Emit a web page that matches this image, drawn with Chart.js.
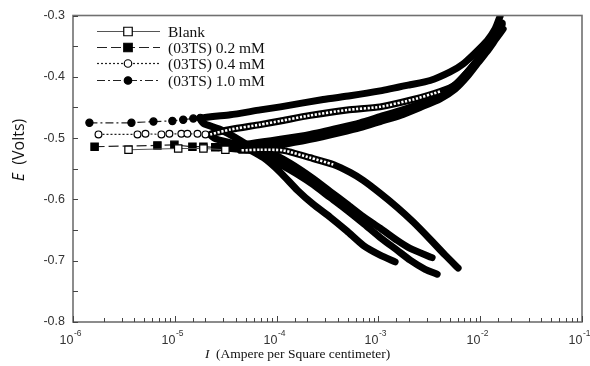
<!DOCTYPE html>
<html>
<head>
<meta charset="utf-8">
<script src="https://cdn.jsdelivr.net/npm/chart.js@4.4.1/dist/chart.umd.min.js"></script>
<style>
  html, body { margin: 0; padding: 0; background: #fff; }
</style>
</head>
<body>
<canvas id="tafel" width="590" height="366"></canvas>
<script>
// legend names
const seriesNames = ['Blank', '(03TS) 0.2 mM', '(03TS) 0.4 mM', '(03TS) 1.0 mM'];

// axis ranges / ticks
const yMin = -0.8, yMax = -0.3;
const xMin = 1e-6, xMax = 1e-1;

// points are [I (A/cm2), E (V)]
// Blank
const blankPlateau = [[3.51e-6, -0.519], [1.08e-5, -0.517], [1.91e-5, -0.517], [3.14e-5, -0.519]];
const blankCathodic = [[4.41e-5, -0.520], [6.92e-5, -0.519], [1.16e-4, -0.520], [2.14e-4, -0.532], [3.60e-4, -0.543],
  [5.28e-4, -0.556], [7.09e-4, -0.569], [1.04e-3, -0.590], [1.53e-3, -0.613], [2.20e-3, -0.637], [3.22e-3, -0.665],
  [4.53e-3, -0.691], [6.07e-3, -0.712]];
const blankAnodic = [[4.41e-5, -0.520], [6.92e-5, -0.515], [1.09e-4, -0.511], [2.14e-4, -0.502], [4.22e-4, -0.491],
  [6.62e-4, -0.483], [1.04e-3, -0.473], [1.64e-3, -0.463], [2.57e-3, -0.450], [4.04e-3, -0.436], [5.68e-3, -0.420],
  [7.43e-3, -0.400], [9.53e-3, -0.377], [1.20e-2, -0.356], [1.43e-2, -0.338], [1.68e-2, -0.322]];

// 0.2 mM
const c02Plateau = [[1.63e-6, -0.514], [6.75e-6, -0.512], [9.91e-6, -0.511], [1.49e-5, -0.514], [1.91e-5, -0.514], [2.50e-5, -0.515]];
const c02Cathodic = [[2.50e-5, -0.515], [4.93e-5, -0.519], [8.67e-5, -0.524], [1.36e-4, -0.541], [2.29e-4, -0.566],
  [3.36e-4, -0.587], [4.94e-4, -0.608], [7.09e-4, -0.628], [1.04e-3, -0.647], [1.53e-3, -0.667], [2.05e-3, -0.680],
  [3.37e-3, -0.695]];
const c02Anodic = [[2.80e-5, -0.514], [5.52e-5, -0.509], [1.09e-4, -0.502], [2.14e-4, -0.494], [4.22e-4, -0.483],
  [6.62e-4, -0.475], [1.04e-3, -0.465], [1.64e-3, -0.455], [2.57e-3, -0.444], [4.04e-3, -0.429], [5.68e-3, -0.413],
  [7.43e-3, -0.393], [9.53e-3, -0.371], [1.20e-2, -0.348], [1.43e-2, -0.328], [1.64e-2, -0.312]];

// 0.4 mM
const c04Plateau = [[1.78e-6, -0.494], [4.30e-6, -0.494], [5.15e-6, -0.493], [7.39e-6, -0.494], [8.85e-6, -0.493],
  [1.16e-5, -0.493], [1.33e-5, -0.493], [1.67e-5, -0.493], [2.00e-5, -0.494]];
const c04Cathodic = [[2.50e-5, -0.501], [4.41e-5, -0.512], [7.41e-5, -0.532], [1.09e-4, -0.556], [1.60e-4, -0.585],
  [2.29e-4, -0.608], [3.36e-4, -0.629], [4.94e-4, -0.652], [7.09e-4, -0.675], [1.04e-3, -0.691], [1.46e-3, -0.702]];
const c04Anodic = [[2.23e-5, -0.494], [3.51e-5, -0.486], [6.92e-5, -0.478], [1.09e-4, -0.472], [2.14e-4, -0.463],
  [4.94e-4, -0.454], [1.04e-3, -0.449], [2.20e-3, -0.437], [4.04e-3, -0.424], [5.68e-3, -0.413], [7.43e-3, -0.393],
  [9.53e-3, -0.371], [1.20e-2, -0.348], [1.43e-2, -0.328], [1.64e-2, -0.315]];

// 1.0 mM
const c10Plateau = [[1.45e-6, -0.475], [3.75e-6, -0.475], [6.17e-6, -0.473], [9.47e-6, -0.472], [1.21e-5, -0.470],
  [1.52e-5, -0.468], [1.78e-5, -0.467]];
const c10Cathodic = [[1.91e-5, -0.476], [2.80e-5, -0.486], [4.41e-5, -0.504], [6.92e-5, -0.524], [1.09e-4, -0.543],
  [1.60e-4, -0.559], [2.29e-4, -0.576], [3.36e-4, -0.597], [4.94e-4, -0.618], [7.09e-4, -0.639], [1.04e-3, -0.662],
  [1.53e-3, -0.683], [2.05e-3, -0.699], [2.88e-3, -0.714], [3.78e-3, -0.722]];
const c10Anodic = [[1.78e-5, -0.468], [3.51e-5, -0.462], [6.92e-5, -0.454], [1.09e-4, -0.449], [2.87e-4, -0.437],
  [5.28e-4, -0.431], [1.04e-3, -0.423], [2.05e-3, -0.413], [3.22e-3, -0.406], [5.07e-3, -0.392], [6.79e-3, -0.379],
  [8.91e-3, -0.361], [1.17e-2, -0.341], [1.40e-2, -0.322], [1.57e-2, -0.301]];

const pts = arr => arr.map(([i, e]) => ({ x: i, y: e }));
const bandPath = (cath, anod) => pts([...cath].reverse().concat(anod));

// marker / line look of each series (same order as seriesNames)
const looks = [
  { style: 'rect', filled: false, dash: [], color: '#555', radius: 5.2 },
  { style: 'rect', filled: true, dash: [10, 4], color: '#222', radius: 5.2 },
  { style: 'circle', filled: false, dash: [2, 2], color: '#222', radius: 3.4 },
  { style: 'circle', filled: true, dash: [8, 3, 2, 3], color: '#222', radius: 3.6 }
];
const plateaus = [blankPlateau, c02Plateau, c04Plateau, c10Plateau];
const bands = [
  bandPath(blankCathodic, blankAnodic),
  bandPath(c02Cathodic, c02Anodic),
  bandPath(c04Cathodic, c04Anodic),
  bandPath(c10Cathodic, c10Anodic)
];

const datasets = [];
seriesNames.forEach((name, k) => {
  const lk = looks[k];
  datasets.push({
    label: name,
    data: pts(plateaus[k]),
    showLine: true,
    borderColor: lk.color,
    borderWidth: 1.2,
    borderDash: lk.dash,
    pointStyle: lk.style,
    pointRadius: lk.radius,
    pointBackgroundColor: lk.filled ? '#000' : '#fff',
    pointBorderColor: '#000',
    pointBorderWidth: 1.2,
    order: 0
  });
  datasets.push({
    label: name + ' band',
    data: bands[k],
    showLine: true,
    borderColor: '#000',
    borderWidth: 7,
    borderCapStyle: 'round',
    borderJoinStyle: 'round',
    tension: 0.2,
    pointRadius: 0,
    order: 2
  });
});

// open-marker stretches show as a white ladder inside the black band
const ladderStyle = { showLine: true, borderColor: '#fff', borderWidth: 2.6, borderDash: [2.2, 1.6], tension: 0.2, pointRadius: 0, order: 1 };
datasets.push(Object.assign({ label: 'ladder 0.4', data: pts(c04Anodic.slice(0, 9)) }, ladderStyle));
datasets.push(Object.assign({ label: 'ladder blank', data: pts(blankCathodic.slice(0, 5).reverse()) }, ladderStyle));

const isDecade = v => Math.abs(Math.log10(v) - Math.round(Math.log10(v))) < 1e-6;

function drawMarker(ctx, style, filled, x, y, size) {
  ctx.setLineDash([]);
  ctx.lineWidth = 1.2;
  ctx.strokeStyle = '#000';
  ctx.fillStyle = filled ? '#000' : '#fff';
  ctx.beginPath();
  if (style === 'rect') ctx.rect(x - size / 2, y - size / 2, size, size);
  else ctx.arc(x, y, size / 2, 0, Math.PI * 2);
  ctx.fill();
  ctx.stroke();
}

const frame = {
  id: 'frame',
  afterDraw(chart) {
    const { ctx, chartArea: a, scales: { x, y } } = chart;
    ctx.save();

    // box
    ctx.strokeStyle = '#707070';
    ctx.lineWidth = 1.6;
    ctx.strokeRect(a.left, a.top, a.right - a.left, a.bottom - a.top);

    // inward ticks
    ctx.strokeStyle = '#444';
    ctx.lineWidth = 1;
    y.ticks.forEach(t => {
      const py = Math.round(y.getPixelForValue(t.value)) + 0.5;
      ctx.beginPath(); ctx.moveTo(a.left, py); ctx.lineTo(a.left + 5, py); ctx.stroke();
    });
    ctx.fillStyle = '#333';
    x.ticks.forEach(t => {
      const px = Math.round(x.getPixelForValue(t.value)) + 0.5;
      const major = isDecade(t.value);
      ctx.beginPath(); ctx.moveTo(px, a.bottom); ctx.lineTo(px, a.bottom - (major ? 6 : 4)); ctx.stroke();
      if (major) {
        const ex = String(Math.round(Math.log10(t.value)));
        ctx.font = '12.5px "Liberation Sans", Arial, sans-serif';
        ctx.textAlign = 'right';
        ctx.textBaseline = 'alphabetic';
        ctx.fillText('10', px, 344);
        ctx.font = '8.5px "Liberation Sans", Arial, sans-serif';
        ctx.textAlign = 'left';
        ctx.fillText(ex, px + 0.5, 336);
      }
    });

    // axis titles
    ctx.fillStyle = '#111';
    ctx.textBaseline = 'alphabetic';
    ctx.font = 'italic 13.5px "Liberation Serif", serif';
    ctx.textAlign = 'left';
    ctx.fillText('I', 205, 358);
    ctx.font = '13.5px "Liberation Serif", serif';
    ctx.fillText('(Ampere per Square centimeter)', 216, 358);

    ctx.save();
    ctx.translate(19, 150);
    ctx.rotate(-Math.PI / 2);
    ctx.textAlign = 'left';
    ctx.textBaseline = 'middle';
    ctx.font = 'italic 16px "Open Sans", "Liberation Sans", sans-serif';
    const w1 = ctx.measureText('E').width;
    ctx.font = '16px "Open Sans", "Liberation Sans", sans-serif';
    const w2 = ctx.measureText('  (Volts)').width;
    const sx = -(w1 + w2) / 2;
    ctx.font = 'italic 16px "Open Sans", "Liberation Sans", sans-serif';
    ctx.fillText('E', sx, 0);
    ctx.font = '16px "Open Sans", "Liberation Sans", sans-serif';
    ctx.fillText('  (Volts)', sx + w1, 0);
    ctx.restore();

    // legend
    const rows = [31, 47, 63, 80];
    seriesNames.forEach((name, k) => {
      const lk = looks[k];
      const ry = rows[k] + 0.5;
      ctx.strokeStyle = lk.color;
      ctx.lineWidth = 1.2;
      ctx.setLineDash(lk.dash);
      ctx.beginPath(); ctx.moveTo(97, ry); ctx.lineTo(160, ry); ctx.stroke();
      drawMarker(ctx, lk.style, lk.filled, 128, ry, lk.style === 'rect' ? 8.5 : 7.5);
      ctx.fillStyle = '#111';
      ctx.font = '15.5px "Liberation Serif", serif';
      ctx.textAlign = 'left';
      ctx.textBaseline = 'middle';
      ctx.fillText(name, 168, ry + 1);
    });

    ctx.restore();
  }
};

new Chart(document.getElementById('tafel'), {
  type: 'scatter',
  data: { datasets },
  options: {
    responsive: false,
    animation: false,
    devicePixelRatio: 1,
    layout: { padding: { top: 14, right: 8, left: 0, bottom: 0 } },
    plugins: { legend: { display: false }, tooltip: { enabled: false } },
    scales: {
      x: {
        type: 'logarithmic',
        min: xMin,
        max: xMax,
        grid: { display: false, drawTicks: false },
        border: { display: false },
        ticks: { display: false },
        afterFit: s => { s.height = 44; }
      },
      y: {
        min: yMin,
        max: yMax,
        grid: { display: false, drawTicks: false },
        border: { display: false },
        ticks: {
          stepSize: 0.05,
          autoSkip: false,
          padding: 8,
          color: '#333',
          font: { family: '"Liberation Sans", Arial, sans-serif', size: 12.5 },
          callback: v => (Math.abs(v * 10 - Math.round(v * 10)) < 1e-6 ? v.toFixed(1) : '')
        },
        afterFit: s => { s.width = 73; }
      }
    }
  },
  plugins: [frame]
});
</script>
</body>
</html>
